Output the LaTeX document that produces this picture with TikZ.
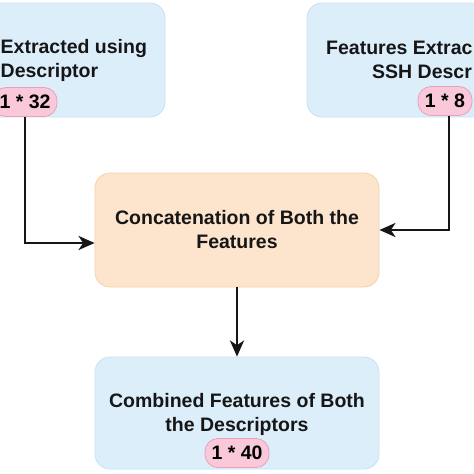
\documentclass[tikz,border=0pt]{standalone}
\usepackage{fontspec}
\setmainfont{Liberation Sans}
\usetikzlibrary{arrows.meta,positioning}
\definecolor{boxblue}{RGB}{221,238,251}
\definecolor{lineblue}{RGB}{200,224,244}
\definecolor{boxorange}{RGB}{252,228,205}
\definecolor{lineorange}{RGB}{244,210,172}
\definecolor{pillpink}{RGB}{249,200,217}
\definecolor{linepink}{RGB}{234,160,188}
\definecolor{ink}{RGB}{22,22,22}

\begin{document}
\begin{tikzpicture}[x=1pt, y=-1pt, font=\bfseries\fontsize{19.5}{24}\selectfont,
box/.style={draw=lineblue, fill=boxblue, rounded corners=15pt, line width=0.8pt},
mergebox/.style={draw=lineorange, fill=boxorange, rounded corners=15pt, line width=0.8pt},
pill/.style={draw=linepink, fill=pillpink, rounded corners=13pt, line width=0.8pt, minimum height=29pt, inner xsep=6pt, inner ysep=0pt},
label/.style={inner sep=0pt, align=center, text=ink},
arrow/.style={-{Stealth[length=16pt, width=14pt, inset=4.5pt]}, line width=2.5pt, draw=ink}]
\useasboundingbox (0,0) rectangle (474,474);
\clip (0,0) rectangle (474,474);
% input boxes (cut by the frame)
\node[box, minimum width=285pt, minimum height=114pt] (lbox) at (22.5,60) {};
\node[box, minimum width=293pt, minimum height=114pt] (rbox) at (453.5,60) {};
\node[label, anchor=west, align=left] (ltext) at (0.5,60) {Extracted using\\Descriptor};
\node[label, anchor=west] (rtext1) at (326,48) {Features Extrac};
\node[label, anchor=west] (rtext2) at (372,72) {SSH Descr};
\node[pill, minimum width=64pt] (lpill) at (25,102) {1 * 32};
\node[pill, minimum width=54pt] (rpill) at (445,101) {1 * 8};
% concatenation and result
\node[mergebox, minimum width=284pt, minimum height=114pt] (concat) at (237,230) {};
\node[label] (ctext) at (concat) {Concatenation of Both the\\Features};
\node[box, minimum width=284pt, minimum height=112pt] (combined) at (237,413) {};
\node[label] (btext) at (237,414) {Combined Features of Both\\the Descriptors};
\node[pill, minimum width=64pt] (bpill) at (237,453) {1 * 40};
\draw[arrow] (lpill.south) |- ([yshift=-13pt]concat.west);
\draw[arrow] ([xshift=4pt]rpill.south) |- (concat.east);
\draw[arrow] (concat.south) -- (combined.north);
\end{tikzpicture}
\end{document}
